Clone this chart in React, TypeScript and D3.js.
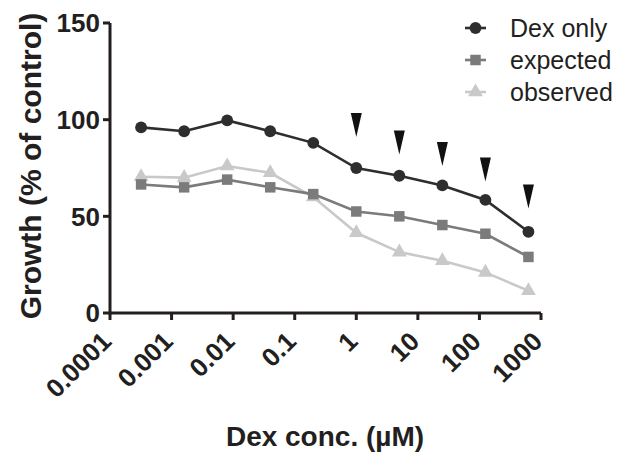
import React, { useEffect, useRef } from 'react'
import * as d3 from 'd3'

// Dex concentrations (uM), 5-fold dilutions
const conc = [0.00032, 0.0016, 0.008, 0.04, 0.2, 1, 5, 25, 125, 625]
const dexOnly = [96, 94, 99.6, 94, 88, 75, 71, 66, 58.5, 42]
const expected = [66.5, 65, 69, 65, 61.5, 52.5, 50, 45.5, 41, 29]
const observed = [70.5, 70, 76, 72.5, 60, 41.5, 31.5, 27, 21, 11.5]

// arrowheads marking synergy (tip value in % of control)
const arrowConc = [1, 5, 25, 125, 625]
const arrowTip = [91, 82, 76, 68, 54]

const xTicks = [0.0001, 0.001, 0.01, 0.1, 1, 10, 100, 1000]
const xTickLabels = ['0.0001', '0.001', '0.01', '0.1', '1', '10', '100', '1000']
const yTicks = [0, 50, 100, 150]

const seriesNames = ['Dex only', 'expected', 'observed']

const FONT = '"Liberation Sans", Arial, Helvetica, sans-serif'

function drawChart(el: SVGSVGElement) {
  const svg = d3.select(el)
  svg.selectAll('*').remove()

  const x = d3.scaleLog().domain([0.0001, 1000]).range([110, 541])
  const y = d3.scaleLinear().domain([0, 150]).range([313, 23])

  const series = [
    { name: seriesNames[0], values: dexOnly, color: '#2e2e2e', shape: 'circle' },
    { name: seriesNames[1], values: expected, color: '#7b7b7b', shape: 'square' },
    { name: seriesNames[2], values: observed, color: '#c9c9c9', shape: 'triangle' },
  ]

  const symbolFor = (shape: string) => {
    if (shape === 'circle') return d3.symbol().type(d3.symbolCircle).size(110)
    if (shape === 'square') return d3.symbol().type(d3.symbolSquare).size(110)
    return d3.symbol().type(d3.symbolTriangle).size(95)
  }

  // axes
  const axis = svg.append('g').attr('stroke', '#231f20').attr('stroke-width', 3)
  axis.append('line').attr('x1', x(0.0001)).attr('x2', x(1000)).attr('y1', y(0)).attr('y2', y(0))
  axis.append('line').attr('x1', x(0.0001)).attr('x2', x(0.0001)).attr('y1', y(0) + 1.5).attr('y2', y(150))
  axis.selectAll('.xt').data(xTicks).enter().append('line')
    .attr('x1', d => x(d)).attr('x2', d => x(d))
    .attr('y1', y(0)).attr('y2', y(0) + 7)
  axis.selectAll('.yt').data(yTicks).enter().append('line')
    .attr('x1', x(0.0001) - 7).attr('x2', x(0.0001))
    .attr('y1', d => y(d)).attr('y2', d => y(d))

  svg.selectAll('.ylab').data(yTicks).enter().append('text')
    .attr('x', x(0.0001) - 10).attr('y', d => y(d))
    .attr('dy', '0.36em')
    .attr('text-anchor', 'end')
    .attr('font-family', FONT).attr('font-weight', 'bold').attr('font-size', 26)
    .attr('fill', '#231f20')
    .text(d => d)

  svg.selectAll('.xlab').data(xTicks).enter().append('text')
    .attr('transform', d => `translate(${x(d) + 3},${y(0) + 30}) rotate(-45)`)
    .attr('text-anchor', 'end')
    .attr('font-family', FONT).attr('font-weight', 'bold').attr('font-size', 26)
    .attr('fill', '#231f20')
    .text((d, i) => xTickLabels[i])

  svg.append('text')
    .attr('transform', `translate(41,166) rotate(-90)`)
    .attr('text-anchor', 'middle')
    .attr('font-family', FONT).attr('font-weight', 'bold').attr('font-size', 30)
    .attr('fill', '#231f20')
    .text('Growth (% of control)')

  svg.append('text')
    .attr('x', 325).attr('y', 446)
    .attr('text-anchor', 'middle')
    .attr('font-family', FONT).attr('font-weight', 'bold').attr('font-size', 28)
    .attr('fill', '#231f20')
    .text('Dex conc. (\u00b5M)')

  // lines + markers, drawn back to front
  const line = d3.line<number>().x((d, i) => x(conc[i])).y(d => y(d))
  series.slice().reverse().forEach(s => {
    svg.append('path')
      .datum(s.values)
      .attr('fill', 'none')
      .attr('stroke', s.color)
      .attr('stroke-width', 2.6)
      .attr('d', line)
    svg.selectAll('.m-' + s.shape).data(s.values).enter().append('path')
      .attr('transform', (d, i) => `translate(${x(conc[i])},${y(d)})`)
      .attr('d', symbolFor(s.shape)())
      .attr('fill', s.color)
  })

  // arrowheads
  svg.selectAll('.arrow').data(arrowTip).enter().append('path')
    .attr('d', (d, i) => {
      const cx = x(arrowConc[i])
      const ty = y(d)
      return `M${cx - 5.5},${ty - 24}L${cx + 5.5},${ty - 24}L${cx},${ty}Z`
    })
    .attr('fill', '#111')

  // legend
  const leg = svg.append('g')
  const rowY = [28, 60, 92]
  series.forEach((s, i) => {
    const g = leg.append('g').attr('transform', `translate(465,${rowY[i]})`)
    g.append('line').attr('x1', 0).attr('x2', 21).attr('y1', 0).attr('y2', 0)
      .attr('stroke', s.color).attr('stroke-width', 2.6)
    g.append('path').attr('transform', 'translate(10.5,0)')
      .attr('d', symbolFor(s.shape)()).attr('fill', s.color)
    g.append('text').attr('x', 45).attr('y', 0).attr('dy', '0.36em')
      .attr('font-family', FONT).attr('font-size', 25).attr('fill', '#231f20')
      .text(s.name)
  })
}

const App = () => {
  const ref = useRef<SVGSVGElement>(null)
  useEffect(() => {
    if (ref.current) drawChart(ref.current)
  }, [])
  return (
    <svg ref={ref} width={621} height={453}
      style={{ position: 'absolute', left: 0, top: 0, background: '#fff' }} />
  )
}

export default App
